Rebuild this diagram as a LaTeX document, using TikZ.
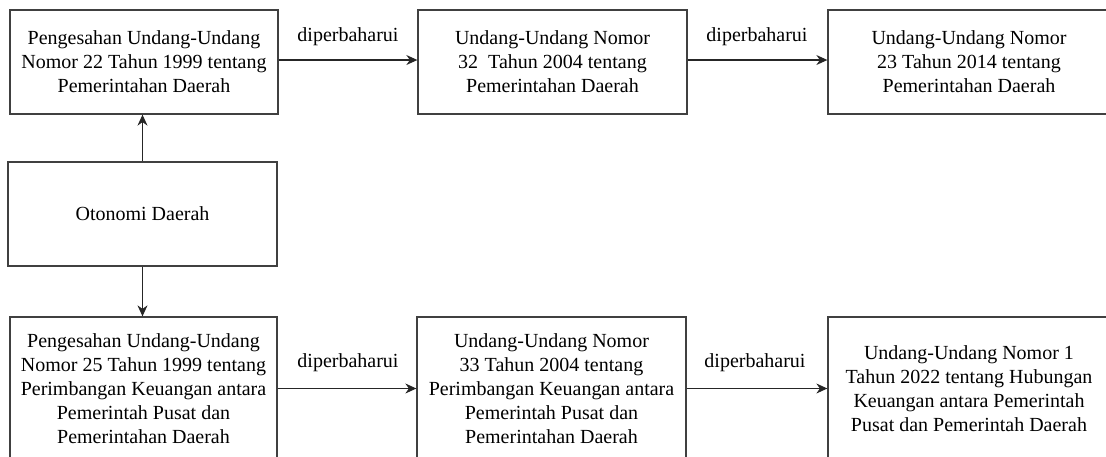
\documentclass[tikz,border=0pt]{standalone}
\usepackage{fontspec}
\setmainfont{Liberation Serif}
\usetikzlibrary{arrows.meta}
\begin{document}
\begin{tikzpicture}[x=1pt,y=-1pt,
  box/.style={draw=black!75, line width=1.3pt, fill=white, rectangle, inner sep=0pt, align=center,
    font=\fontsize{20}{24}\selectfont},
  conn/.style={draw=black!85, line width=1.1pt, -{Stealth[length=11pt,width=10pt]}},
  lbl/.style={font=\fontsize{20}{24}\selectfont, inner sep=0pt}]
\clip (0,0) rectangle (1106,456);
\fill[white] (0,0) rectangle (1106,456);
% top row
\node[box, minimum width=268pt, minimum height=104pt] (a) at (144,62)
  {Pengesahan Undang-Undang\\Nomor 22 Tahun 1999 tentang\\Pemerintahan Daerah};
\node[box, minimum width=269pt, minimum height=104pt] (b) at (552.5,62)
  {Undang-Undang Nomor\\32\ \ Tahun 2004 tentang\\Pemerintahan Daerah};
\node[box, minimum width=282pt, minimum height=104pt] (c) at (969,62)
  {Undang-Undang Nomor\\23 Tahun 2014 tentang\\Pemerintahan Daerah};
% middle
\node[box, minimum width=269pt, minimum height=104pt] (o) at (142.5,214) {Otonomi Daerah};
% bottom row
\node[box, minimum width=267pt, minimum height=143pt] (d) at (143.5,388.5)
  {Pengesahan Undang-Undang\\Nomor 25 Tahun 1999 tentang\\Perimbangan Keuangan antara\\Pemerintah Pusat dan\\Pemerintahan Daerah};
\node[box, minimum width=269pt, minimum height=143pt] (e) at (551.5,388.5)
  {Undang-Undang Nomor\\33 Tahun 2004 tentang\\Perimbangan Keuangan antara\\Pemerintah Pusat dan\\Pemerintahan Daerah};
\node[box, minimum width=282pt, minimum height=143pt] (f) at (969,388.5)
  {Undang-Undang Nomor 1\\Tahun 2022 tentang Hubungan\\Keuangan antara Pemerintah\\Pusat dan Pemerintah Daerah};
% connectors
\draw[conn] ([yshift=2pt]a.east) -- ([yshift=2pt]b.west);
\draw[conn] ([yshift=2pt]b.east) -- ([yshift=2pt]c.west);
\draw[conn] (d.east) -- (e.west);
\draw[conn] (e.east) -- (f.west);
\draw[conn] (o.north) -- (o.north |- a.south);
\draw[conn] (o.south) -- (o.south |- d.north);
% labels
\node[lbl] (l1) at (348,37) {diperbaharui};
\node[lbl] (l2) at (757,37) {diperbaharui};
\node[lbl] (l3) at (348,363) {diperbaharui};
\node[lbl] (l4) at (755,363) {diperbaharui};
\end{tikzpicture}
\end{document}
